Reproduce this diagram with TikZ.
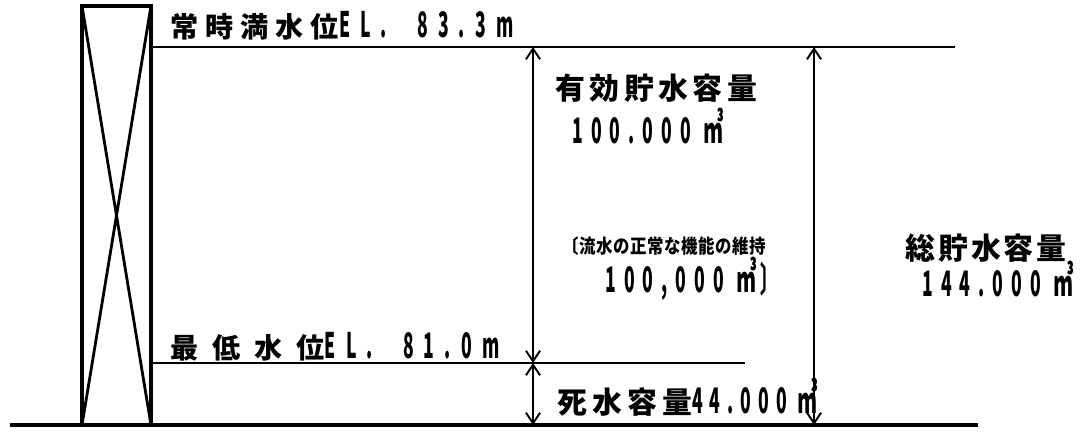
\documentclass[tikz,border=0pt]{standalone}
\usepackage{fontspec}
\setmainfont{Noto Sans CJK JP}
\newfontfamily\cjwide{Noto Sans CJK JP}
\newfontfamily\cjnarrow{Noto Sans CJK JP}[FakeStretch=0.85]
\newfontfamily\numnarrow{Noto Sans CJK JP}[FakeStretch=0.5]
\usetikzlibrary{arrows.meta}
% #1 size, #2 letter spacing, #3 text
\newcommand\Jt[3]{{\fontsize{#1}{#1}\cjwide\bfseries\addfontfeatures{LetterSpace=#2}#3}}
\newcommand\Js[3]{{\fontsize{#1}{#1}\cjnarrow\bfseries\addfontfeatures{LetterSpace=#2}#3}}
\newcommand\Nm[3]{{\fontsize{#1}{#1}\numnarrow\bfseries\addfontfeatures{LetterSpace=#2}#3}}
\newcommand\cubm{\smash{\fontsize{23pt}{23pt}\numnarrow\bfseries ㎥}}
\begin{document}
\begin{tikzpicture}[x=0.02cm,y=-0.02cm,
  level/.style={line width=1.2pt},
  ground/.style={line width=2.4pt},
  tower/.style={line width=2.8pt},
  crossline/.style={line width=1.6pt},
  dimarrow/.style={line width=1.1pt,{Straight Barb[length=6pt,width=8pt]}-{Straight Barb[length=6pt,width=8pt]}},
  lbl/.style={inner sep=0pt,anchor=west}]
\useasboundingbox (0,0) rectangle (1084,432);
% coordinates
\coordinate (TL) at (82,6);
\coordinate (TR) at (151,6);
\coordinate (BL) at (82,425);
\coordinate (BR) at (151,425);
\coordinate (hwlA) at (151,47);
\coordinate (hwlB) at (955,47);
\coordinate (lwlA) at (151,363);
\coordinate (lwlB) at (745,363);
\coordinate (gA) at (10,425);
\coordinate (gB) at (978,425);
\coordinate (aTop) at (533,47);
\coordinate (aMid) at (533,363);
\coordinate (aBot) at (533,425);
\coordinate (bTop) at (814,47);
\coordinate (bBot) at (814,425);
% tower
\draw[crossline] (TL) -- (BR) (TR) -- (BL);
\draw[tower] (TL) rectangle (BR);
% levels
\draw[level] (hwlA) -- (hwlB);
\draw[level] (lwlA) -- (lwlB);
\draw[ground] (gA) -- (gB);
% dimension arrows
\draw[dimarrow] (aTop) -- (aMid);
\draw[dimarrow] (aMid) -- (aBot);
\draw[dimarrow] (bTop) -- (bBot);
% labels
\node[lbl] (t1) at (170,26) {\Jt{16pt}{25}{常時満水位}\Nm{20pt}{29}{EL.\hspace{0.6cm}83.3m}};
\node[lbl] (t2) at (555,88) {\Jt{17pt}{15}{有効貯水容量}};
\node[lbl] (t3) at (572,131) {\Nm{20pt}{23}{100.000 \cubm}};
\node[lbl] (t4) at (562,246) {\Js{11pt}{3}{〔流水の正常な機能の維持}};
\node[lbl] (t5) at (605,281) {\Nm{20pt}{23}{100,000 \cubm\hspace{0.08cm}〕}};
\node[lbl] (t6) at (905,248) {\Jt{17pt}{10}{総貯水容量}};
\node[lbl] (t7) at (922,284) {\Nm{20pt}{23}{144.000 \cubm}};
\node[lbl] (t8) at (170,347) {\Jt{16pt}{25}{\spaceskip=8pt 最 低 水 位}\Nm{20pt}{29}{EL.\hspace{0.6cm}81.0m}};
\node[lbl] (t9) at (557,402) {\Jt{17pt}{17}{死水容量}\Nm{20pt}{20}{44.000 \cubm}};
\end{tikzpicture}
\end{document}
